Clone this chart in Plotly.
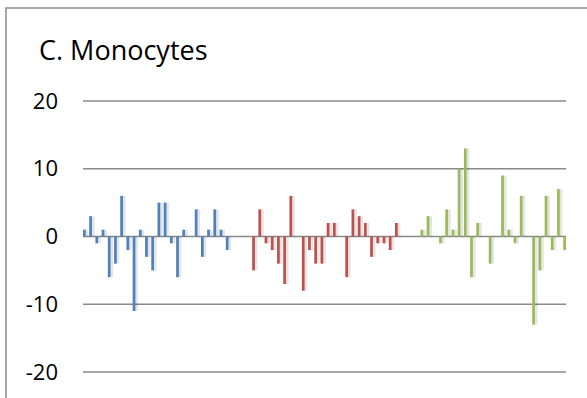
import plotly.graph_objects as go

# ---- data ----
blue_values = [1, 3, -1, 1, -6, -4, 6, -2, -11, 1, -3, -5, 5, 5, -1, -6, 1, 0, 4, -3, 1, 4, 1, -2]
red_values = [-5, 4, -1, -2, -4, -7, 6, 0, -8, -2, -4, -4, 2, 2, 0, -6, 4, 3, 2, -3, -1, -1, -2, 2]
green_values = [1, 3, 0, -1, 4, 1, 10, 13, -6, 2, 0, -4, 0, 9, 1, -1, 6, 0, -13, -5, 6, -2, 7, -2]
y_ticks = [-20, -10, 0, 10, 20]
title_text = "C. Monocytes"

# ---- layout / style ----
W, H = 587, 398
L, R, T, B = 83, 21, 101, 26
Y_MIN, Y_MAX = -20, 20
group_starts = [0.0, 27.25, 54.35]
colors = ["#4F81BD", "#C0504D", "#9BBB59"]
bar_w = 0.44
FONT = "Open Sans"
GRID = "#8a8a8a"

fig = go.Figure()
for vals, start, col in zip([blue_values, red_values, green_values], group_starts, colors):
    xs = [start + i for i in range(len(vals))]
    # soft shadow
    fig.add_trace(go.Bar(x=[x + 0.25 for x in xs], y=vals, width=bar_w + 0.35,
                         marker=dict(color="rgba(0,0,0,0.10)", line=dict(width=0)),
                         hoverinfo="skip", showlegend=False))
    fig.add_trace(go.Bar(x=xs, y=vals, width=bar_w,
                         marker=dict(color=col, line=dict(width=0)),
                         showlegend=False))

# gridlines (paper-referenced so the edge lines are not clipped)
shapes = []
for v in y_ticks:
    yp = (v - Y_MIN) / (Y_MAX - Y_MIN)
    shapes.append(dict(type="line", xref="paper", yref="paper", x0=0, x1=1, y0=yp, y1=yp,
                       line=dict(color=GRID, width=1.5), layer="below"))
shapes.append(dict(type="rect", xref="paper", yref="paper",
                   x0=-(L - 6) / (W - L - R), x1=1 + (R + 5) / (W - L - R),
                   y0=-(B + 5) / (H - T - B), y1=1 + (T - 8) / (H - T - B),
                   line=dict(color="#8c8c8c", width=1.5), fillcolor="rgba(0,0,0,0)",
                   layer="below"))

x_last = group_starts[-1] + len(green_values) - 1
fig.update_layout(
    width=W, height=H,
    margin=dict(l=L, r=R, t=T, b=B, pad=0),
    paper_bgcolor="white", plot_bgcolor="white",
    barmode="overlay",
    font=dict(family=FONT, color="#000000"),
    title=dict(text=title_text, x=39 / W, xanchor="left", xref="container",
               y=1 - 51 / H, yanchor="middle", yref="container",
               font=dict(family=FONT, size=27, color="#000000")),
    xaxis=dict(range=[-bar_w / 2, x_last + bar_w / 2], showgrid=False, zeroline=False,
               showticklabels=False, ticks="", showline=False, fixedrange=True),
    yaxis=dict(range=[Y_MIN, Y_MAX], tickvals=y_ticks, ticktext=[str(v) for v in y_ticks],
               showgrid=False, zeroline=False,
               showline=False, ticks="", ticklabelstandoff=24,
               tickfont=dict(family=FONT, size=22, color="#000000")),
    shapes=shapes,
)

fig.write_html("out.html", config={"displayModeBar": False},
               post_script="document.body.style.margin='0';")
